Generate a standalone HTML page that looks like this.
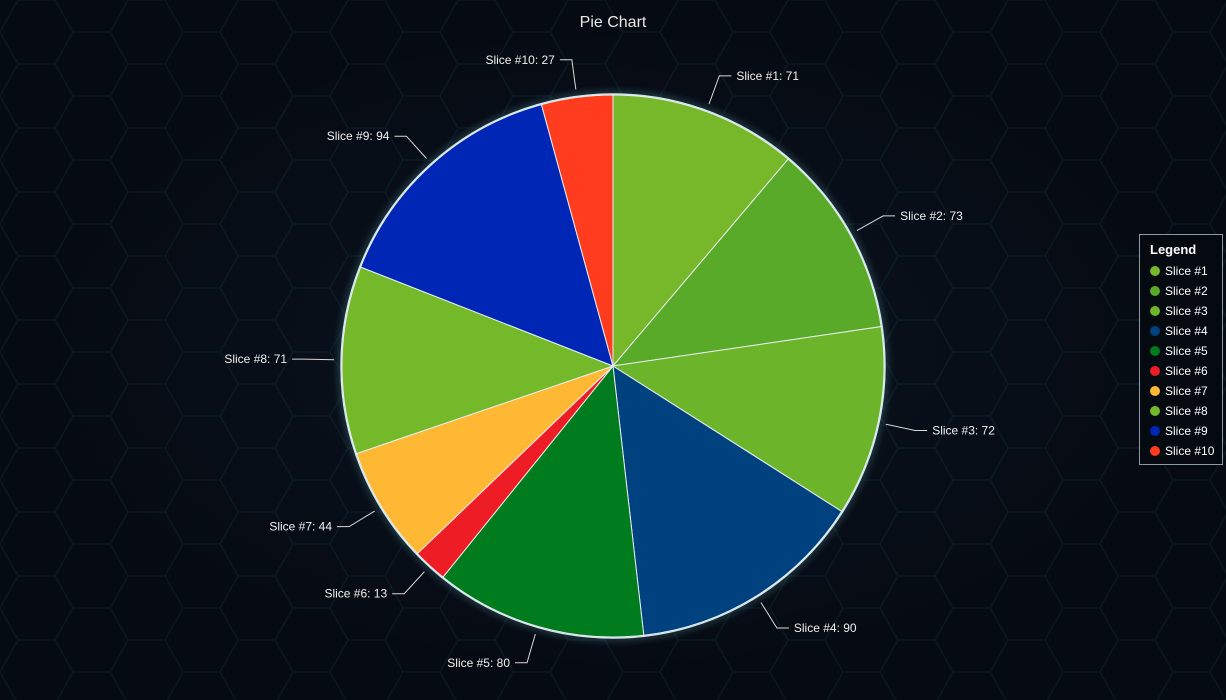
<!DOCTYPE html>
<html><head><meta charset="utf-8"><style>
html,body{margin:0;padding:0;background:#060a12;}
#wrap{position:relative;width:1226px;height:700px;overflow:hidden;background:radial-gradient(ellipse at 50% 50%,#0a1420 0%,#060a12 70%);}
svg{position:absolute;left:0;top:0;font-family:"Liberation Sans",sans-serif;}
#legend{position:absolute;left:1139px;top:234px;width:84px;height:231px;border:1px solid #8a9aa0;background:#050a10;color:#fff;font-family:"Liberation Sans",sans-serif;font-size:12px;box-sizing:border-box;}
#legend .t{font-weight:bold;font-size:13px;margin:7px 0 4px 10px;}
#legend .e{height:20px;line-height:20px;padding-left:10px;white-space:nowrap;}
#legend .d{display:inline-block;width:10px;height:10px;border-radius:50%;margin-right:5px;vertical-align:-1px;}
</style></head><body>
<div id="wrap">
<svg id="chart" width="1226" height="700">
<defs>
<pattern id="hex" width="110" height="64" patternUnits="userSpaceOnUse">
<path d="M0 32 L18 0 L55 0 L73 32 L55 64 L18 64 Z M73 32 L110 32" fill="none" stroke="#0f3a40" stroke-width="1.5" opacity="0.5"/>
</pattern>
</defs>
<rect width="1226" height="700" fill="url(#hex)" opacity="0.6"/>
<text x="613" y="27" fill="#e8e8e8" font-size="16" text-anchor="middle">Pie Chart</text>
<g id="slices"></g><g id="labels"></g>
</svg>
<div id="legend"><div class="t">Legend</div></div>
</div>
<script>
const categories=["Slice #1","Slice #2","Slice #3","Slice #4","Slice #5","Slice #6","Slice #7","Slice #8","Slice #9","Slice #10"];
const values=[71,73,72,90,80,13,44,71,94,27];
const colors=["#76b82a","#5aaa2a","#6cb52a","#00427f","#007c1e","#ee1c25","#ffb834","#73b92a","#0026b5","#ff3c1e"];
const cx=613,cy=366,R=271,NS="http://www.w3.org/2000/svg";
const total=values.reduce((a,b)=>a+b,0);
const sg=document.getElementById('slices'),lg=document.getElementById('labels');
const outline=document.createElementNS(NS,'circle');
outline.setAttribute('cx',cx);outline.setAttribute('cy',cy);outline.setAttribute('r',R+1);
outline.setAttribute('fill','none');outline.setAttribute('stroke','#cfe6ea');outline.setAttribute('stroke-width','1.5');
outline.setAttribute('style','filter:drop-shadow(0 0 4px #7fd0e0)');


sg.appendChild(outline);
let acc=0;
function pt(a,r){return [cx+r*Math.sin(a),cy-r*Math.cos(a)];}
values.forEach((v,i)=>{
  const a0=acc/total*2*Math.PI;acc+=v;const a1=acc/total*2*Math.PI;
  const p0=pt(a0,R),p1=pt(a1,R);const large=(a1-a0)>Math.PI?1:0;
  const p=document.createElementNS(NS,'path');
  p.setAttribute('d',`M${cx},${cy} L${p0[0]},${p0[1]} A${R},${R} 0 ${large} 1 ${p1[0]},${p1[1]} Z`);
  p.setAttribute('fill',colors[i]);p.setAttribute('stroke','#e8eef0');p.setAttribute('stroke-width','1');
  
  
  sg.appendChild(p);
  const am=(a0+a1)/2,q0=pt(am,R+8),q1=pt(am,R+38);
  const right=Math.sin(am)>=0;const x2=q1[0]+(right?12:-12);
  const l=document.createElementNS(NS,'polyline');
  l.setAttribute('points',`${q0[0]},${q0[1]} ${q1[0]},${q1[1]} ${x2},${q1[1]}`);
  l.setAttribute('fill','none');l.setAttribute('stroke','#d8d8d8');l.setAttribute('stroke-width','1');
  
  
  lg.appendChild(l);
  const t=document.createElementNS(NS,'text');
  t.setAttribute('x',x2+(right?5:-5));t.setAttribute('y',q1[1]+4);
  t.setAttribute('text-anchor',right?'start':'end');t.setAttribute('fill','#f0f0f0');t.setAttribute('font-size','12');
  t.textContent=categories[i]+': '+v;
  
  
  lg.appendChild(t);
  const e=document.createElement('div');e.className='e';
  e.innerHTML=`<span class="d" style="background:${colors[i]}"></span>${categories[i]}`;
  
  
  document.getElementById('legend').appendChild(e);
});
</script>
</body></html>
